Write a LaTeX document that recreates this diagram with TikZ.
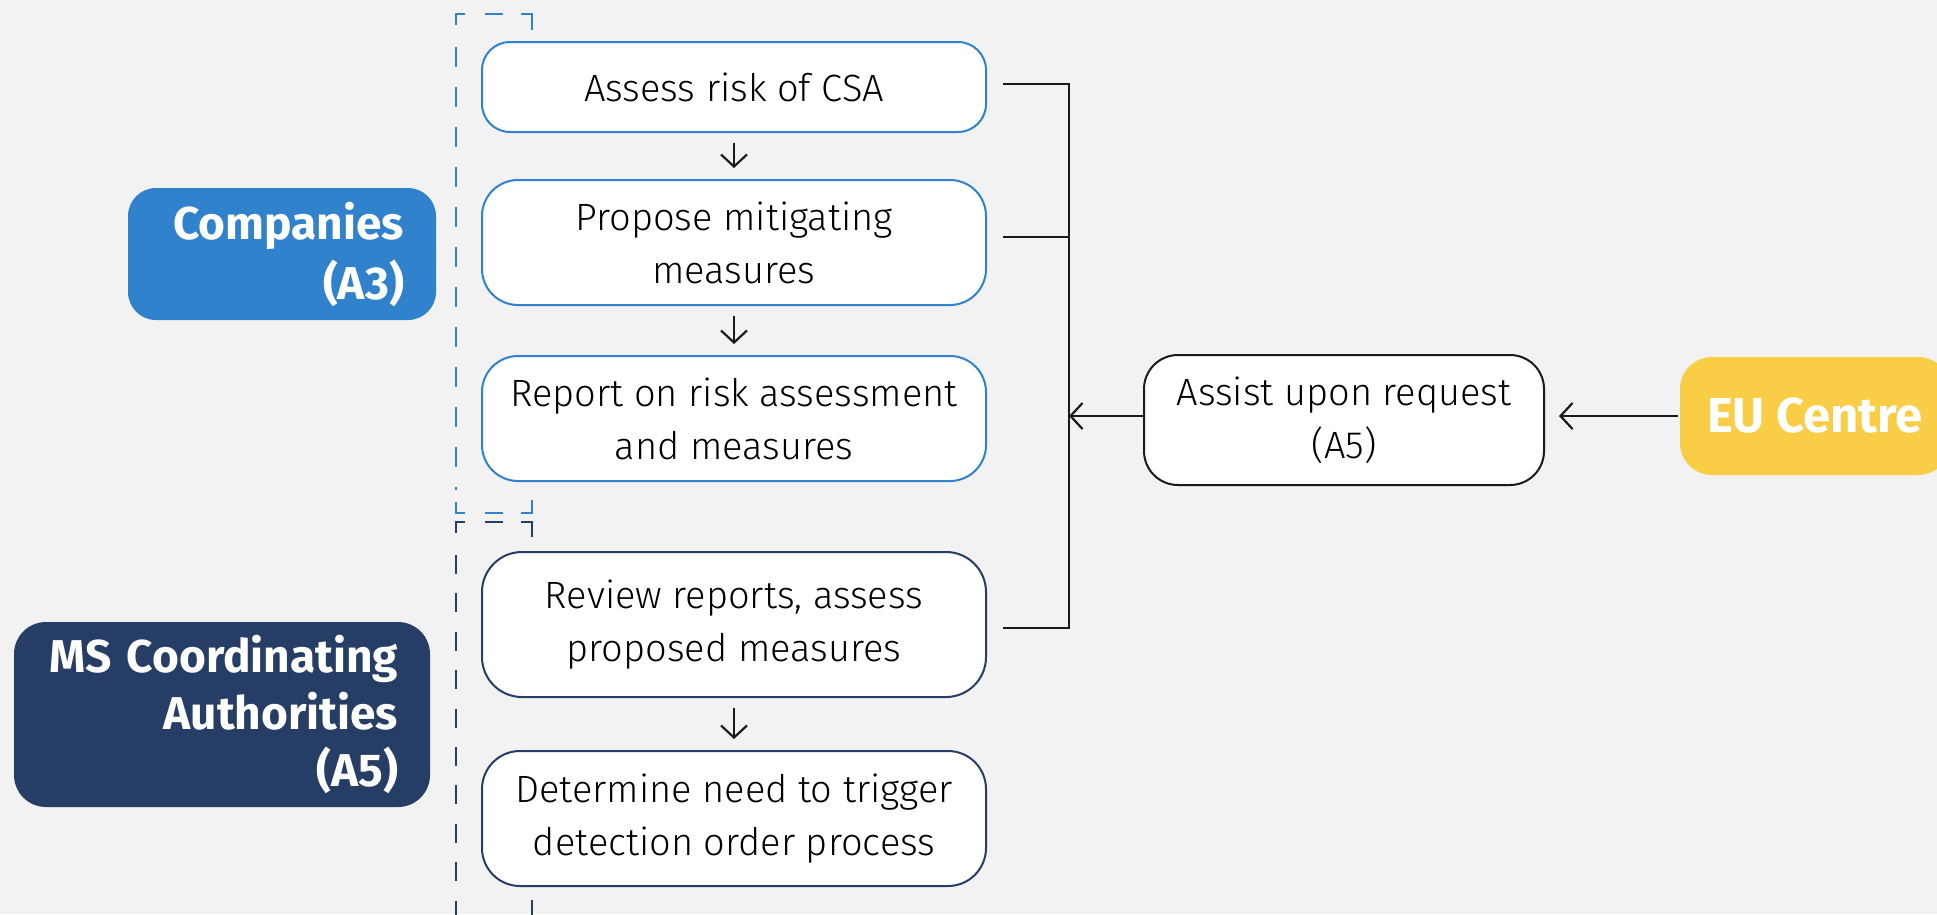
\documentclass[tikz,border=0pt]{standalone}
\usepackage{fontspec}
\setmainfont{Fira Sans}[UprightFont=* Light, BoldFont=* Bold]
\usetikzlibrary{arrows.meta}
\definecolor{bg}{HTML}{F2F2F2}
\definecolor{cblue}{HTML}{3182CC}
\definecolor{cnavy}{HTML}{263D66}
\definecolor{cyell}{HTML}{F9CD45}
\definecolor{cline}{HTML}{1A1A1A}
\tikzset{
  stepbox/.style={draw=#1, line width=2pt, fill=white, rounded corners=30pt, align=center,
     font=\fontsize{38}{53}\selectfont, text=black, inner sep=0pt},
  actor/.style={fill=#1, rounded corners=28pt, align=right, text=white,
     font=\fontsize{46}{60}\selectfont\bfseries, inner sep=0pt},
  conn/.style={draw=cline, line width=1.8pt},
  arr/.style={conn, -{Straight Barb[length=12pt,width=26pt,line width=2.2pt]}},
  brk/.style={draw=#1, line width=2.2pt, dash pattern=on 20pt off 20pt},
  tick/.style={draw=#1, line width=2.2pt}
}
\begin{document}
\begin{tikzpicture}[x=1pt,y=-1pt]
\useasboundingbox[fill=bg] (0,0) rectangle (1937,914);
% blue bracket
\draw[tick=cblue] (532,30) -- (532,14) -- (521,14);
\draw[tick=cblue] (485,14) -- (503,14);
\draw[tick=cblue] (465,14) -- (456,14) -- (456,25);
\draw[brk=cblue] (456,47) -- (456,490);
\draw[tick=cblue] (456,502) -- (456,513) -- (465,513);
\draw[tick=cblue] (485,513) -- (503,513);
\draw[tick=cblue] (521,513) -- (532,513) -- (532,500);
% navy bracket
\draw[tick=cnavy] (532,537) -- (532,522) -- (521,522);
\draw[tick=cnavy] (485,522) -- (503,522);
\draw[tick=cnavy] (465,522) -- (456,522) -- (456,533);
\draw[brk=cnavy,dash pattern=on 19pt off 19.4pt] (456,555) -- (456,920);
\draw[tick=cnavy] (532,900) -- (532,920);
% step boxes
\node[stepbox=cblue, minimum width=504pt, minimum height=90pt, rounded corners=28pt] (assess) at (734,87) {Assess risk of CSA};
\node[stepbox=cblue, minimum width=504pt, minimum height=125pt, rounded corners=36pt] (propose) at (734,242.5) {Propose mitigating\\measures};
\node[stepbox=cblue, minimum width=504pt, minimum height=125pt, rounded corners=36pt] (report) at (734,418.5) {Report on risk assessment\\and measures};
\node[stepbox=cnavy, minimum width=504pt, minimum height=145pt, rounded corners=40pt] (review) at (734,624.5) {Review reports, assess\\proposed measures};
\node[stepbox=cnavy, minimum width=504pt, minimum height=135pt, rounded corners=38pt] (determine) at (734,818.5) {Determine need to trigger\\detection order process};
\node[stepbox=cline, minimum width=400pt, minimum height=130pt, rounded corners=34pt] (assist) at (1344,420) {Assist upon request\\(A5)};
% actors
\node[actor=cblue, minimum width=308pt, minimum height=132pt, text width=244pt] (companies) at (282,254) {Companies\\(A3)};
\node[actor=cnavy, minimum width=416pt, minimum height=185pt, text width=352pt, rounded corners=32pt, font=\fontsize{46}{57}\selectfont\bfseries] (ms) at (222,714.5) {MS Coordinating\\Authorities\\(A5)};
\node[actor=cyell, minimum width=270pt, minimum height=118pt, align=center, rounded corners=32pt, font=\fontsize{49}{60}\selectfont\bfseries] (eu) at (1815,416) {EU Centre};
% down arrows
\draw[arr] ([yshift=-10pt]assess.south) -- ([yshift=11pt]propose.north);
\draw[arr] ([yshift=-10pt]propose.south) -- ([yshift=11pt]report.north);
\draw[arr] ([yshift=-10pt]review.south) -- ([yshift=11pt]determine.north);
% bus
\coordinate (bustop) at (1069,84);
\coordinate (busbot) at (1069,628);
\draw[conn] ([xshift=16pt]assess.east |- bustop) -- (bustop) -- (busbot) -- ([xshift=16pt]review.east |- busbot);
\draw[conn] ([xshift=16pt]propose.east |- 0,237) -- (bustop |- 0,237);
\draw[arr] (assist.west |- 0,416) -- (bustop |- 0,416);
\draw[arr] ([xshift=-2pt]eu.west) -- ([xshift=14pt]assist.east |- 0,416);
\end{tikzpicture}
\end{document}
